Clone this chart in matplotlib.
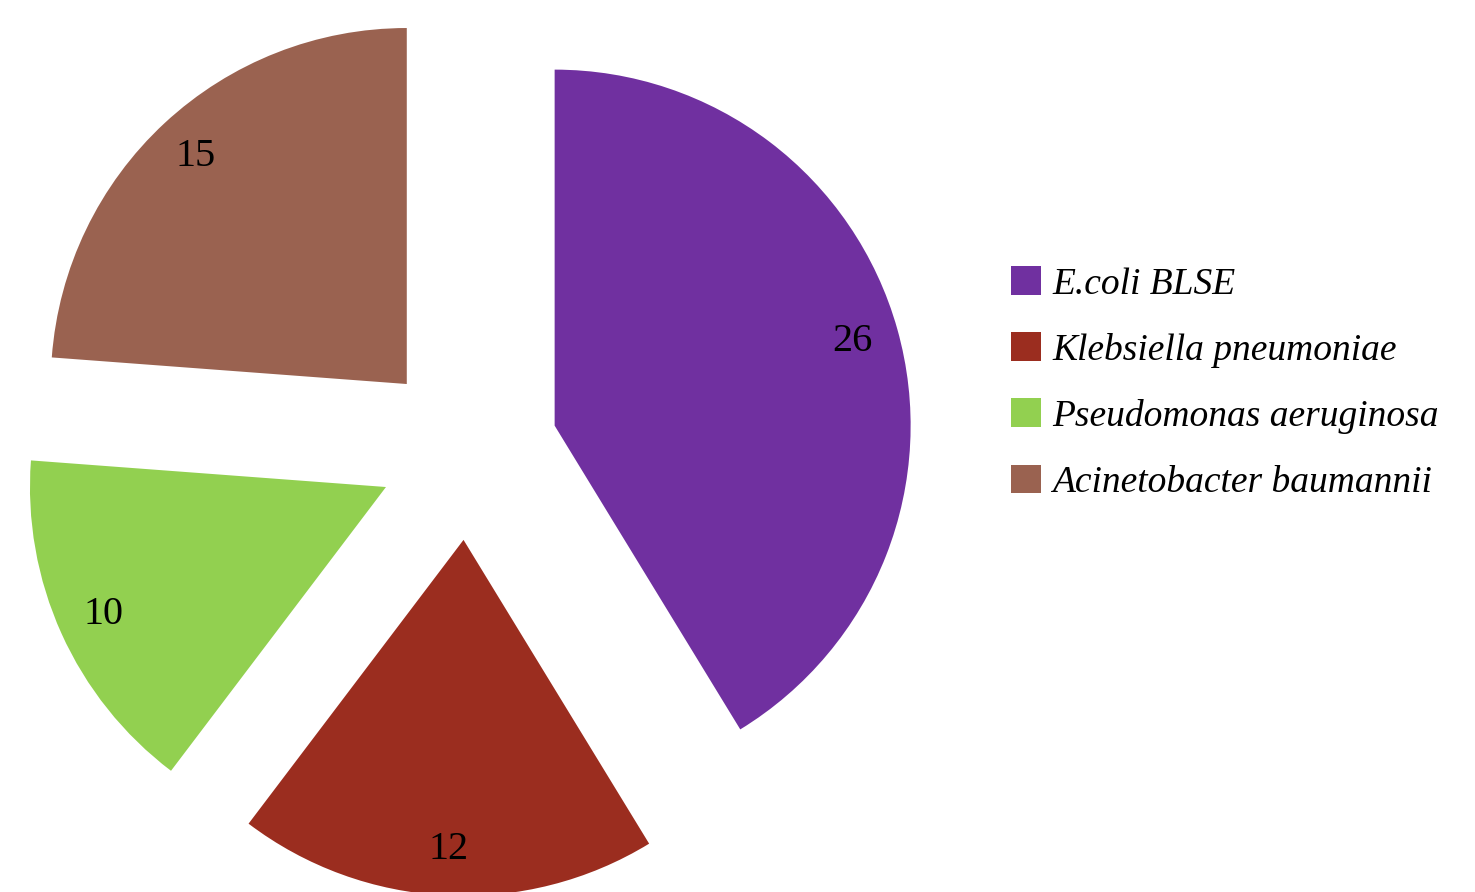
import matplotlib.pyplot as plt
from matplotlib.patches import Patch

labels = ['E.coli BLSE', 'Klebsiella pneumoniae', 'Pseudomonas aeruginosa', 'Acinetobacter baumannii']
values = [26, 12, 10, 15]
colors = ['#7030A0', '#9B2D1F', '#92D050', '#9A6250']

plt.rcParams['font.family'] = ['Liberation Serif', 'DejaVu Serif']

fig = plt.figure(figsize=(14.75, 8.92), dpi=100)
ax = fig.add_axes([0, 0, 1, 1])

# explode is in data units here (axes in pixel coords)
ax.pie(values, colors=colors, startangle=90, counterclock=False,
       explode=[90] * 4, radius=356, center=(468, -450),
       autopct=lambda p: '%d' % round(p * sum(values) / 100.0),
       pctdistance=0.87, textprops={'fontsize': 29, 'color': 'black'},
       wedgeprops={'linewidth': 0})
ax.set_xlim(0, 1475)
ax.set_ylim(-892, 0)
ax.set_aspect('equal')
ax.axis('off')

handles = [Patch(facecolor=c, edgecolor='none') for c in colors]
fig.legend(handles, labels, loc='center left', bbox_to_anchor=(1011 / 1475, 1 - 383 / 892),
           frameon=False, prop={'size': 27, 'style': 'italic'},
           handlelength=0.8, handleheight=0.8, handletextpad=0.3,
           labelspacing=0.82, borderpad=0, borderaxespad=0)

fig.savefig('out.png', dpi=100)
